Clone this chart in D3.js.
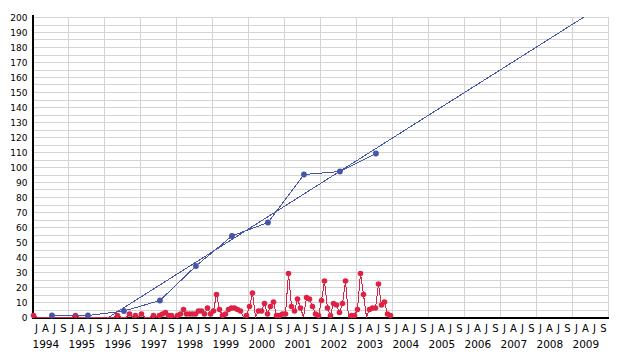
<!DOCTYPE html>
<html>
<head>
<meta charset="utf-8">
<script src="https://cdn.jsdelivr.net/npm/d3@7"></script>
<style>
  html, body { margin: 0; padding: 0; background: #ffffff; }
  svg { display: block; }
  text { font-family: "DejaVu Sans", Verdana, sans-serif; fill: #000; }
</style>
</head>
<body>
<svg id="chart" width="619" height="357"></svg>
<script>
// ---- data ----
const yearLabels = ["1994","1995","1996","1997","1998","1999","2000","2001","2002","2003","2004","2005","2006","2007","2008","2009"];
const quarterLabels = ["J","A","J","S"];
const yTicks = d3.range(0, 201, 10);

// monthly counts, Jan 1994 .. Dec 2003
const monthlyStart = 1994;
const monthlyValues = [
  1,0,0,0,0,0,0,0,0,0,0,0,
  0,0,1,0,0,0,0,0,0,0,0,0,
  0,0,0,0,1,0,0,0,2,0,1,0,
  2,0,0,0,1,0,1,2,3,1,1,0,
  1,2,5,2,2,2,2,4,4,2,6,2,
  4,15,5,1,2,5,6,6,5,4,0,1,
  7,16,0,4,4,9,2,7,10,1,1,2,
  2,29,7,4,12,6,0,13,12,7,2,1,
  11,24,6,1,9,8,3,9,24,0,1,1,
  5,29,15,0,5,6,6,22,8,10,2,1
];

// yearly totals
const annualYears = [1994,1995,1996,1997,1998,1999,2000,2001,2002,2003];
const annualValues = [1,1,4,11,34,54,63,95,97,109];

// trend line (years, values)
const trendYears = [1996.13, 2009.32];
const trendValues = [0, 200];

// ---- layout ----
const svg = d3.select("#chart");
const x = d3.scaleLinear().domain([1994, 2010]).range([32.5, 608.5]);
const y = d3.scaleLinear().domain([0, 200]).range([317, 17]);
const red = "#dd2244", blue = "#4455aa", grid = "#d4d4d4";

// grid
const g = svg.append("g").attr("shape-rendering", "crispEdges");
g.selectAll("line.h").data(d3.range(0, 201, 5)).join("line")
  .attr("x1", x(1994)).attr("x2", x(2010))
  .attr("y1", d => Math.round(y(d)) + 0.5).attr("y2", d => Math.round(y(d)) + 0.5)
  .attr("stroke", grid).attr("stroke-width", 1);
g.selectAll("line.v").data(d3.range(1994, 2011)).join("line")
  .attr("x1", d => x(d)).attr("x2", d => x(d))
  .attr("y1", y(200)).attr("y2", y(0))
  .attr("stroke", grid).attr("stroke-width", 1);

// axes lines
svg.append("line").attr("x1", 33).attr("x2", 33).attr("y1", 15).attr("y2", 319)
  .attr("stroke", "#000").attr("stroke-width", 2).attr("shape-rendering", "crispEdges");
svg.append("line").attr("x1", 32).attr("x2", x(2010)).attr("y1", 318).attr("y2", 318)
  .attr("stroke", "#000").attr("stroke-width", 2).attr("shape-rendering", "crispEdges");

// y labels
svg.selectAll("text.y").data(yTicks).join("text")
  .attr("x", 27.5).attr("y", d => Math.round(y(d)) + 3.5)
  .attr("text-anchor", "end").attr("font-size", "9px")
  .text(d => d);

// x labels
yearLabels.forEach((lab, i) => {
  const yr = 1994 + i;
  quarterLabels.forEach((q, k) => {
    svg.append("text")
      .attr("x", x(yr + (k + 0.5) / 4) - 0.5).attr("y", 332)
      .attr("text-anchor", "middle").attr("font-size", "10px")
      .text(q);
  });
  svg.append("text")
    .attr("x", x(yr)).attr("y", 347.5)
    .attr("font-size", "10.5px")
    .text(lab);
});

// trend line
svg.append("path")
  .datum(trendYears.map((t, i) => [t, trendValues[i]]))
  .attr("fill", "none").attr("stroke", blue).attr("stroke-width", 1)
  .attr("shape-rendering", "crispEdges")
  .attr("d", d3.line().x(d => x(d[0])).y(d => y(d[1])));

// monthly series
const monthly = monthlyValues.map((v, i) => ({ t: monthlyStart + (i + 0.33) / 12, v }));
svg.append("path").datum(monthly)
  .attr("fill", "none").attr("stroke", red).attr("stroke-width", 1)
  .attr("shape-rendering", "crispEdges")
  .attr("d", d3.line().x(d => x(d.t)).y(d => y(d.v)));
svg.selectAll("circle.m").data(monthly.filter(d => d.v > 0)).join("circle")
  .attr("cx", d => x(d.t)).attr("cy", d => y(d.v)).attr("r", 2.8)
  .attr("fill", red);

// annual series
const annual = annualYears.map((t, i) => ({ t: t + 0.54, v: annualValues[i] }));
svg.append("path").datum(annual)
  .attr("fill", "none").attr("stroke", blue).attr("stroke-width", 1)
  .attr("shape-rendering", "crispEdges")
  .attr("d", d3.line().x(d => x(d.t)).y(d => y(d.v)));
svg.selectAll("circle.a").data(annual).join("circle")
  .attr("cx", d => x(d.t)).attr("cy", d => y(d.v)).attr("r", 2.9)
  .attr("fill", blue);
</script>
</body>
</html>
